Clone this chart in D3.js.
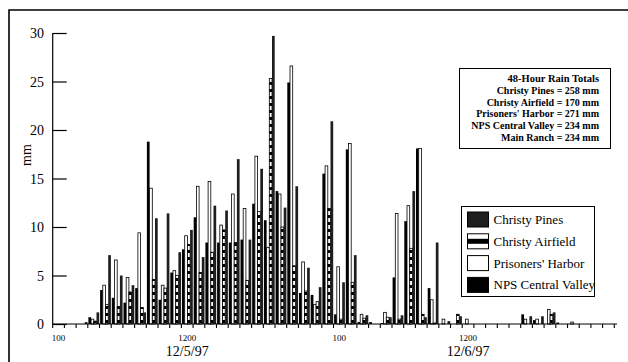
<!DOCTYPE html>
<html>
<head>
<meta charset="utf-8">
<script src="https://cdn.jsdelivr.net/npm/d3@7/dist/d3.min.js"></script>
<style>
body{margin:0;background:#fff;}
svg text{font-family:'Liberation Serif','Times New Roman',serif;fill:#000;}
</style>
</head>
<body>
<div id="container"></div>
<script>
// hourly categories, 12/5/97 100 through 12/6/97 2400
var hours = ['100','200','300','400','500','600','700','800','900','1000','1100','1200',
	'1300','1400','1500','1600','1700','1800','1900','2000','2100','2200','2300','2400',
	'100b','200b','300b','400b','500b','600b','700b','800b','900b','1000b','1100b','1200b',
	'1300b','1400b','1500b','1600b','1700b','1800b','1900b','2000b','2100b','2200b','2300b','2400b'];

var npsCentralValley = [0,0,0,0.7,3.5,2.7,2.2,3.7,18.8,2.5,5.3,7.7,
	11.0,8.4,8.4,8.4,8.7,12.4,10.7,13.7,24.9,3.2,3.0,15.5,
	1.0,18.0,0.2,0.2,0.1,4.8,10.6,18.1,3.7,0,0,0,
	0,0,0,0,1.0,0.4,0,0.15,0,0,0,0];
var prisonersHarbor = [0,0,0,0.5,4.0,6.6,4.8,9.4,14.0,4.0,5.5,9.1,
	14.2,14.7,10.2,13.4,11.9,17.3,7.9,13.4,26.6,6.4,2.0,16.3,
	5.9,18.6,1.0,0,1.2,11.4,12.2,18.1,2.5,0.5,0,0.5,
	0,0,0,0,0.5,0.5,1.5,0,0.2,0,0,0];
var christyAirfield = [0,0,0,0.3,2.0,1.8,3.3,1.7,4.6,3.7,5.0,8.2,
	5.3,7.4,9.7,8.4,4.5,11.6,25.3,10.0,6.0,3.4,2.3,11.9,
	0.5,4.3,0.6,0,0.7,0.5,7.8,1.0,0.1,0,1.0,0,
	0,0,0,0,0,0,1.0,0,0,0,0,0];
var christyPines = [0,0,0.2,1.2,7.1,5.0,4.0,1.2,10.9,11.4,7.4,9.7,
	6.9,12.2,11.7,17.0,8.7,16.0,29.7,12.0,14.2,5.8,3.8,20.9,
	4.3,7.1,0.9,0,0.7,0.9,13.7,0.7,8.4,0.3,0.8,0,
	0,0,0,0,0.8,0.8,1.2,0,0,0,0,0];

var yTicks = [0,5,10,15,20,25,30];
var hourLabels = [{hour:'100',text:'100'},{hour:'1200',text:'1200'},{hour:'100b',text:'100'},{hour:'1200b',text:'1200'}];
var dateLabels = [{hour:'1200',text:'12/5/97'},{hour:'1200b',text:'12/6/97'}];
var legendNames = ['Christy Pines','Christy Airfield',"Prisoners' Harbor",'NPS Central Valley'];
var totalsLines = ['48-Hour Rain Totals','Christy Pines = 258 mm','Christy Airfield = 170 mm',
	"Prisoners' Harbor = 271 mm",'NPS Central Valley = 234 mm','Main Ranch = 234 mm'];

var vis = {
	w:628,
	h:362,
	series:[],

	processData:function(){
		var self = vis;
		// drawing order inside each hour slot
		self.series = [
			{key:'nps', name:'NPS Central Valley', values:npsCentralValley},
			{key:'ph', name:"Prisoners' Harbor", values:prisonersHarbor},
			{key:'ca', name:'Christy Airfield', values:christyAirfield},
			{key:'cp', name:'Christy Pines', values:christyPines}
		];
		self.generate();
	},
	barStyle:function(sel, key){
		if(key==='ph'){
			sel.attr('fill','#fff').attr('stroke','#000').attr('stroke-width',0.8);
		} else if(key==='ca'){
			sel.attr('fill','url(#stripes)').attr('stroke','#000').attr('stroke-width',0.8);
		} else if(key==='cp'){
			sel.attr('fill','#1e1e1e');
		} else {
			sel.attr('fill','#000');
		}
	},
	generate:function(){
		var self = vis;

		var svg = d3.select('#container').append('svg')
			.attr('width',self.w)
			.attr('height',self.h);

		var defs = svg.append('defs');
		var pat = defs.append('pattern')
			.attr('id','stripes')
			.attr('patternUnits','userSpaceOnUse')
			.attr('width',4).attr('height',7);
		pat.append('rect').attr('width',4).attr('height',7).attr('fill','#000');
		pat.append('rect').attr('y',1).attr('width',4).attr('height',4).attr('fill','#fff');

		// outer frame
		svg.append('path')
			.attr('d','M9,362 V10 H628')
			.attr('fill','none')
			.attr('stroke','#000')
			.attr('stroke-width',1.6);

		var x = d3.scaleBand().domain(hours).range([52.7,614.3]);
		var x1 = d3.scaleBand().domain(self.series.map(function(d){return d.key;}))
			.range([0.6,x.bandwidth()-0.3]);
		var y = d3.scaleLinear().domain([0,30]).range([324,33]);

		// bars
		self.series.forEach(function(s){
			var bars = svg.append('g').selectAll('rect')
				.data(s.values.map(function(v,i){return {hour:hours[i], value:v};})
					.filter(function(d){return d.value>0;}))
				.enter().append('rect')
				.attr('x',function(d){return x(d.hour)+x1(s.key);})
				.attr('width',x1.bandwidth())
				.attr('y',function(d){return y(d.value);})
				.attr('height',function(d){return y(0)-y(d.value);});
			self.barStyle(bars, s.key);
		});

		// y axis, ticks inside
		var yAxis = svg.append('g')
			.attr('transform','translate(52.7,0)')
			.call(d3.axisRight(y).tickValues(yTicks).tickSize(14).tickFormat(''));
		yAxis.select('.domain').attr('d','M0,'+y(30)+'V'+y(0)).attr('stroke-width',1.2);
		yAxis.selectAll('.tick line').attr('stroke-width',1.2);

		svg.append('g').selectAll('text')
			.data(yTicks)
			.enter().append('text')
			.attr('x',44)
			.attr('y',function(d){return y(d)+5;})
			.attr('text-anchor','end')
			.style('font-size','14px')
			.text(function(d){return d;});

		svg.append('text')
			.attr('transform','translate(31,155) rotate(-90)')
			.attr('text-anchor','middle')
			.style('font-size','14px')
			.text('mm');

		// x axis, one tick per hour
		var tickXs = hours.map(function(h){return x(h);}).concat([x.range()[1]]);
		var xg = svg.append('g');
		xg.append('line')
			.attr('x1',52.7).attr('x2',617)
			.attr('y1',y(0)).attr('y2',y(0))
			.attr('stroke','#000').attr('stroke-width',1.2);
		xg.selectAll('line.tk')
			.data(tickXs)
			.enter().append('line')
			.classed('tk',true)
			.attr('x1',function(d){return d;}).attr('x2',function(d){return d;})
			.attr('y1',y(0)).attr('y2',y(0)+4)
			.attr('stroke','#000').attr('stroke-width',1.1);

		xg.selectAll('text.hr')
			.data(hourLabels)
			.enter().append('text')
			.classed('hr',true)
			.attr('x',function(d){return x(d.hour)+x.bandwidth()/2;})
			.attr('y',341)
			.attr('text-anchor','middle')
			.style('font-size','9px')
			.text(function(d){return d.text;});

		xg.selectAll('text.dt')
			.data(dateLabels)
			.enter().append('text')
			.classed('dt',true)
			.attr('x',function(d){return x(d.hour)+x.bandwidth()/2;})
			.attr('y',356)
			.attr('text-anchor','middle')
			.style('font-size','14px')
			.text(function(d){return d.text;});

		// totals box
		var tb = svg.append('g');
		tb.append('rect')
			.attr('x',459.5).attr('y',68.5).attr('width',151).attr('height',80)
			.attr('fill','#fff').attr('stroke','#000').attr('stroke-width',1);
		tb.selectAll('text')
			.data(totalsLines)
			.enter().append('text')
			.attr('x',599)
			.attr('y',function(d,i){return 82+i*11.8;})
			.attr('text-anchor','end')
			.style('font-size',function(d,i){return i===0?'10.5px':'10px';})
			.style('font-weight','bold')
			.text(function(d){return d;});

		// legend
		var lg = svg.append('g');
		lg.append('rect')
			.attr('x',461.5).attr('y',206.5).attr('width',133).attr('height',90)
			.attr('fill','#fff').attr('stroke','#000').attr('stroke-width',1);
		var rows = lg.selectAll('g.row')
			.data(legendNames)
			.enter().append('g')
			.classed('row',true)
			.attr('transform',function(d,i){return 'translate(467.5,'+(212+i*21.8)+')';});
		rows.each(function(d,i){
			var g = d3.select(this);
			if(i===1){
				g.append('rect').attr('width',21).attr('height',15)
					.attr('fill','#fff').attr('stroke','#000').attr('stroke-width',1);
				g.append('rect').attr('y',5).attr('width',21).attr('height',5).attr('fill','#000');
			} else if(i===2){
				g.append('rect').attr('width',21).attr('height',15)
					.attr('fill','#fff').attr('stroke','#000').attr('stroke-width',1);
			} else {
				g.append('rect').attr('width',21).attr('height',15)
					.attr('fill',i===0?'#1e1e1e':'#000').attr('stroke','#000').attr('stroke-width',1);
			}
		});
		rows.append('text')
			.attr('x',26)
			.attr('y',12)
			.style('font-size','13px')
			.text(function(d){return d;});
	}
};

vis.processData();
</script>
</body>
</html>
